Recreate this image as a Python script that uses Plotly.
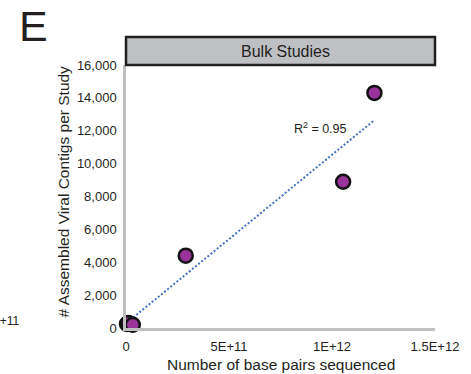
import numpy as np
import plotly.graph_objects as go

# Sequencing depth (base pairs) vs. assembled viral contigs, bulk studies
base_pairs = [5e9, 1.2e10, 3.3e10, 2.9e11, 1.054e12, 1.206e12]
contigs = [250, 300, 200, 4400, 8900, 14300]

x_tickvals = [0, 5e11, 1e12, 1.5e12]
x_ticktext = ["0", "5E+11", "1E+12", "1.5E+12"]
y_tickvals = [0, 2000, 4000, 6000, 8000, 10000, 12000, 14000, 16000]

TEXT = "#231f20"
AXIS = "#bfbfbf"
FONT = "Liberation Sans, Arial, sans-serif"

# Least-squares linear trend over the plotted studies
slope, intercept = np.polyfit(base_pairs, contigs, 1)
fit_x = np.array([min(base_pairs), max(base_pairs)])
fit_y = slope * fit_x + intercept

fig = go.Figure()
fig.add_trace(go.Scatter(
    x=fit_x, y=fit_y, mode="lines",
    line=dict(color="#4472c4", width=2, dash="2px,2px"),
    hoverinfo="skip", showlegend=False,
))
fig.add_trace(go.Scatter(
    x=base_pairs, y=contigs, mode="markers",
    marker=dict(size=14, color="#993399", line=dict(color="#111111", width=2.5)),
    cliponaxis=False, showlegend=False,
))

fig.update_layout(
    width=471, height=374,
    margin=dict(l=126, r=29, t=65, b=46),
    paper_bgcolor="white", plot_bgcolor="white",
    font=dict(family=FONT, color=TEXT, size=13),
    xaxis=dict(
        range=[0, 1.5e12], tickvals=x_tickvals, ticktext=x_ticktext,
        showgrid=False, zeroline=False, showline=True,
        linecolor=AXIS, linewidth=2.5, ticks="", ticklabelstandoff=5,
        tickfont=dict(size=13, color=TEXT),
    ),
    yaxis=dict(
        range=[0, 16000], tickvals=y_tickvals, tickformat=",",
        showgrid=False, zeroline=False, showline=True,
        linecolor=AXIS, linewidth=2.5, ticks="", ticklabelstandoff=4,
        tickfont=dict(size=13, color=TEXT),
    ),
)

# Facet strip above the panel
fig.add_shape(
    type="rect", xref="paper", yref="paper",
    x0=0, x1=1, y0=1, y1=1 + 28 / 263,
    fillcolor="#bfc0c4", line=dict(color=TEXT, width=2.5), layer="above",
)

annotations = [
    dict(text="Bulk Studies", x=0.515, y=1 + 14 / 263, xref="paper", yref="paper",
         showarrow=False, font=dict(size=16, color=TEXT), xanchor="center", yanchor="middle"),
    dict(text="R<sup>2</sup> = 0.95", x=0.63, y=(328 - 128) / 263, xref="paper", yref="paper",
         showarrow=False, font=dict(size=12.5, color=TEXT), xanchor="center", yanchor="middle"),
    dict(text="Number of base pairs sequenced", x=0.5, y=(328 - 364) / 263,
         xref="paper", yref="paper", showarrow=False,
         font=dict(size=15.5, color=TEXT), xanchor="center", yanchor="middle"),
    dict(text="# Assembled Viral Contigs per Study", x=(62 - 126) / 316, y=(328 - 191) / 263,
         xref="paper", yref="paper", showarrow=False, textangle=-90,
         font=dict(size=15.5, color=TEXT), xanchor="center", yanchor="middle"),
    dict(text="E", x=(15 - 126) / 316, y=(328 - 26) / 263, xref="paper", yref="paper",
         showarrow=False, font=dict(size=43, color=TEXT), xanchor="left", yanchor="middle"),
    dict(text="5E+11", x=(19 - 126) / 316, y=(328 - 321) / 263, xref="paper", yref="paper",
         showarrow=False, font=dict(size=12, color=TEXT), xanchor="right", yanchor="middle"),
]
fig.update_layout(annotations=annotations)

fig.write_html("out.html")
